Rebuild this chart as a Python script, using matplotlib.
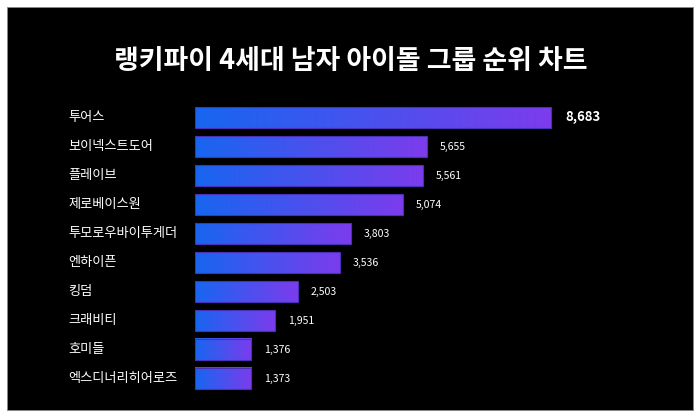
import numpy as np
import matplotlib.pyplot as plt
from matplotlib.colors import LinearSegmentedColormap
from matplotlib.patches import Rectangle
import matplotlib.transforms as mtransforms

plt.rcParams['font.family'] = ['Noto Sans CJK KR', 'DejaVu Sans']

# Data
groups = ["투어스", "보이넥스트도어", "플레이브", "제로베이스원", "투모로우바이투게더",
          "엔하이픈", "킹덤", "크래비티", "호미들", "엑스디너리히어로즈"]
scores = [8683, 5655, 5561, 5074, 3803, 3536, 2503, 1951, 1376, 1373]
title = "랭키파이 4세대 남자 아이돌 그룹 순위 차트"

W, H = 700, 420
fig = plt.figure(figsize=(7, 4.2), dpi=100)
fig.patch.set_facecolor("white")

# black panel with thin white margin
fig.patches.append(Rectangle((7 / W, 10 / H), 686 / W, 403 / H,
                             transform=fig.transFigure, facecolor="black",
                             edgecolor="#888888", linewidth=0.6, zorder=-5))

fig.text(351 / W, 1 - 61 / H, title, color="white", fontsize=19.4,
         fontweight="bold", ha="center", va="center")

# axes: rows 29 px apart, first centre at y=117.5 px
ax = fig.add_axes([195 / W, 1 - 393 / H, 498 / W, 290 / H])
ax.set_facecolor("none")
ax.axis("off")

cmap = LinearSegmentedColormap.from_list("bar", ["#1766f0", "#7c3cec"])
grad = np.linspace(0, 1, 256).reshape(1, -1)
h = 21 / 29

for i, (name, v) in enumerate(zip(groups, scores)):
    ax.imshow(grad, cmap=cmap, aspect="auto", interpolation="bicubic",
              extent=(0, v, i + h / 2, i - h / 2), zorder=2)
    ax.barh(i, v, height=h, facecolor="none", edgecolor="#4a2fb8",
            linewidth=0.8, zorder=3)
    top = i == 0
    ax.annotate(f"{v:,}", (v, i), xytext=(14 if top else 13, 0),
                textcoords="offset pixels", color="white",
                fontsize=9.5 if top else 7.6,
                fontweight="bold" if top else "normal",
                ha="left", va="center")

trans = mtransforms.blended_transform_factory(fig.transFigure, ax.transData)
for i, name in enumerate(groups):
    ax.text(68 / W, i, name, transform=trans, color="white", fontsize=9.5,
            ha="left", va="center")

ax.set_xlim(0, 498 / (356 / 8683))
ax.set_ylim(9.5, -0.5)

fig.savefig("out.png", dpi=100)
